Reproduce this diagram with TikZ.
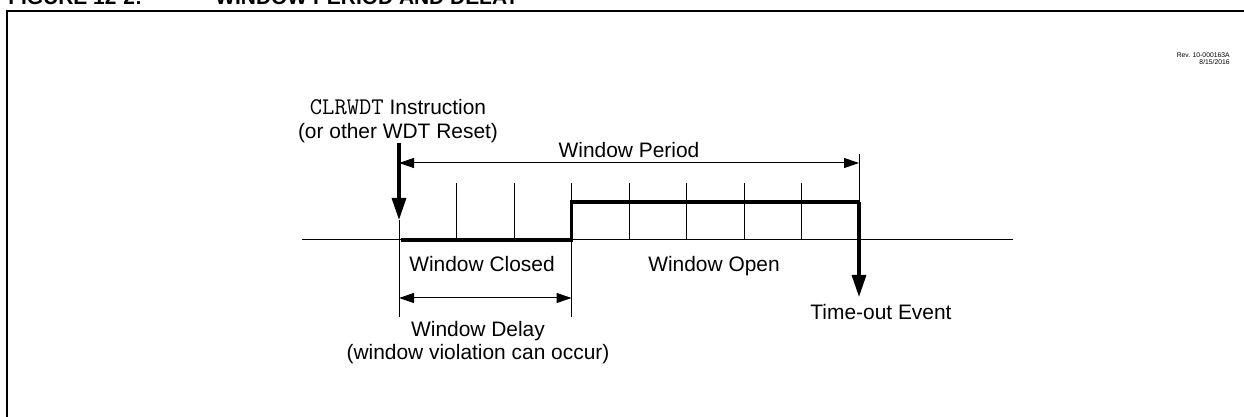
\documentclass[tikz,border=0pt]{standalone}
\usepackage{fontspec}
\setmainfont{Liberation Sans}
\usetikzlibrary{arrows.meta}

\begin{document}
\begin{tikzpicture}[x=0.5bp, y=-0.5bp, >={Triangle[length=7.5bp, width=5bp]},
	every node/.style={font=\fontsize{10.5}{12}\selectfont, inner sep=0pt},
	title/.style={font=\fontsize{10.5}{12}\selectfont\bfseries},
	rev/.style={font=\fontsize{3.4}{4}\selectfont},
	guide/.style={line width=0.5bp},
	dim/.style={line width=0.5bp, <->},
	sig/.style={line width=1.6bp},
	bigarrow/.style={line width=1.6bp, -{Triangle[length=11bp, width=7bp]}}]
	\useasboundingbox (0,0) rectangle (1244,417);
	
	% 外框与标题 (右边和下边在画面之外)
	\draw[line width=1.2bp] (7,11) rectangle (1270,440);
	\node[title, anchor=base west] (fig) at (8,4.5) {FIGURE 12-2:};
	\node[title, anchor=base west] (ttl) at (215,4.5) {WINDOW PERIOD AND DELAY};
	\node[rev, anchor=base east] (rev) at (1230,58) {Rev. 10-000163A};
	\node[rev, anchor=base east] (date) at (1230,65) {8/15/2016};
	
	% 关键点
	\coordinate (start) at (399,240);
	\coordinate (open) at (571.5,240);
	\coordinate (tout) at (859,202);
	
	% 时间轴与刻度
	\draw[guide] (302,240) -- (1013,240);
	\foreach \i in {1,...,7}
		\draw[guide] (399+57.5*\i,183) -- (399+57.5*\i,240);
	
	% 界线
	\draw[guide] (start |- 0,220) -- (start |- 0,317);
	\draw[guide] (open) -- (open |- 0,317);
	\draw[guide] (tout |- 0,154) -- (tout);
	
	% CLRWDT 与超时箭头, 窗口信号
	\draw[bigarrow] (start |- 0,143) -- (start |- 0,220);
	\draw[sig] ([xshift=1bp]start) -- (open) |- (tout);
	\draw[bigarrow] (tout) -- (tout |- 0,297);
	
	% 尺寸箭头
	\draw[dim] (start |- 0,163) -- (tout |- 0,163);
	\draw[dim] (start |- 0,298) -- (open |- 0,298);
	
	% 文字
	\node[anchor=base] (clr) at (398,115) {{\fontsize{12}{12}\ttfamily CLRWDT} Instruction};
	\node[anchor=base] (rst) at (398,139) {(or other WDT Reset)};
	\node[anchor=base] (per) at (629,158) {Window Period};
	\node[anchor=base] (cls) at (482,272) {Window Closed};
	\node[anchor=base] (opn) at (714,272) {Window Open};
	\node[anchor=base] (dly) at (478,337) {Window Delay};
	\node[anchor=base] (vio) at (478,360) {(window violation can occur)};
	\node[anchor=base] (evt) at (881,320) {Time-out Event};
\end{tikzpicture}
\end{document}
